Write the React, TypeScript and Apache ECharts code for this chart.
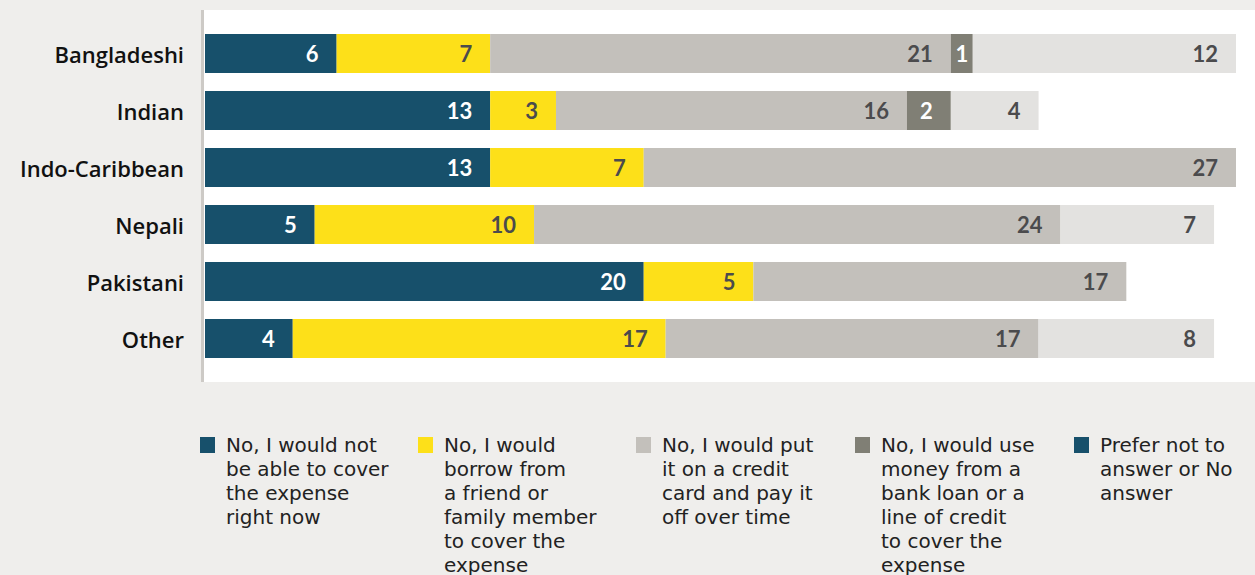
import React, { useEffect, useRef } from 'react';
import * as echarts from 'echarts';

const categories = ['Bangladeshi', 'Indian', 'Indo-Caribbean', 'Nepali', 'Pakistani', 'Other'];

const seriesNames = [
  'No, I would not be able to cover the expense right now',
  'No, I would borrow from a friend or family member to cover the expense',
  'No, I would put it on a credit card and pay it off over time',
  'No, I would use money from a bank loan or a line of credit to cover the expense',
  'Prefer not to answer or No answer',
];

// legend text broken the way the reference wraps it
const legendLines = [
  ['No, I would not', 'be able to cover', 'the expense', 'right now'],
  ['No, I would', 'borrow from', 'a friend or', 'family member', 'to cover the', 'expense'],
  ['No, I would put', 'it on a credit', 'card and pay it', 'off over time'],
  ['No, I would use', 'money from a', 'bank loan or a', 'line of credit', 'to cover the', 'expense'],
  ['Prefer not to', 'answer or No', 'answer'],
];

const cannotCover = [6, 13, 13, 5, 20, 4];
const borrowFriend = [7, 3, 7, 10, 5, 17];
const creditCard = [21, 16, 27, 24, 17, 17];
const bankLoan = [1, 2, 0, 0, 0, 0];
const preferNot = [12, 4, 0, 7, 0, 8];

const barColors = ['#17506b', '#fde019', '#c3c0bb', '#807f75', '#e3e2e0'];
const legendColors = ['#17506b', '#fde019', '#c3c0bb', '#807f75', '#17506b'];
const labelColors = ['#ffffff', '#4b4b4d', '#4b4b4d', '#ffffff', '#4b4b4d'];
const legendX = [200, 418, 636, 855, 1074];

const App: React.FC = () => {
  const chartRef = useRef<HTMLDivElement>(null);

  useEffect(() => {
    if (!chartRef.current) return;
    const chart = echarts.init(chartRef.current, undefined, { renderer: 'svg' });

    const values = [cannotCover, borrowFriend, creditCard, bankLoan, preferNot];
    const lh = 24;

    const option = {
      animation: false,
      backgroundColor: '#efeeec',
      graphic: [
        { type: 'rect', z: -10, shape: { x: 204, y: 10, width: 1051, height: 372 }, style: { fill: '#ffffff' } },
        { type: 'rect', z: -5, shape: { x: 201, y: 10, width: 3, height: 372 }, style: { fill: '#cdcac6' } },
      ],
      grid: { left: 205, right: 19, top: 25, height: 342 },
      xAxis: { type: 'value', min: 0, max: 47, show: false },
      yAxis: {
        type: 'category',
        data: categories,
        inverse: true,
        axisLine: { show: false },
        axisTick: { show: false },
        axisLabel: {
          margin: 21,
          fontSize: 22,
          fontFamily: 'Open Sans',
          fontWeight: 600,
          color: '#111111',
          padding: [0, 0, 5, 0],
        },
      },
      legend: seriesNames.map((name, i) => {
        const n = legendLines[i].length;
        return {
          left: legendX[i],
          top: 445 - ((2 * n - 1) * lh) / 2,
          padding: 0,
          itemWidth: 15,
          itemHeight: 16,
          itemGap: 0,
          icon: 'rect',
          selectedMode: false,
          data: [{ name, itemStyle: { color: legendColors[i] } }],
          // blank lines above keep the first line level with the icon
          formatter: () => '\n'.repeat(n - 1) + legendLines[i].join('\n'),
          textStyle: {
            fontSize: 20,
            lineHeight: lh,
            fontFamily: 'DejaVu Sans',
            color: '#222222',
            padding: [0, 0, 0, 6],
          },
        };
      }),
      series: seriesNames.map((name, i) => ({
        name,
        type: 'bar',
        stack: 'total',
        barWidth: 39,
        itemStyle: { color: barColors[i] },
        data: values[i].map((v) =>
          v === 1
            ? { value: v, label: { position: 'inside', distance: 0 } }
            : v
        ),
        label: {
          show: true,
          position: 'insideRight',
          distance: 18,
          fontSize: 22,
          fontWeight: 'bold',
          fontFamily: 'Lato',
          color: labelColors[i],
          formatter: (p: any) => (p.value ? String(p.value) : ''),
        },
      })),
    };

    chart.setOption(option);
    return () => {
      chart.dispose();
    };
  }, []);

  return (
    <div
      ref={chartRef}
      style={{ position: 'absolute', left: 0, top: 0, width: 1255, height: 575 }}
    />
  );
};

export default App;
